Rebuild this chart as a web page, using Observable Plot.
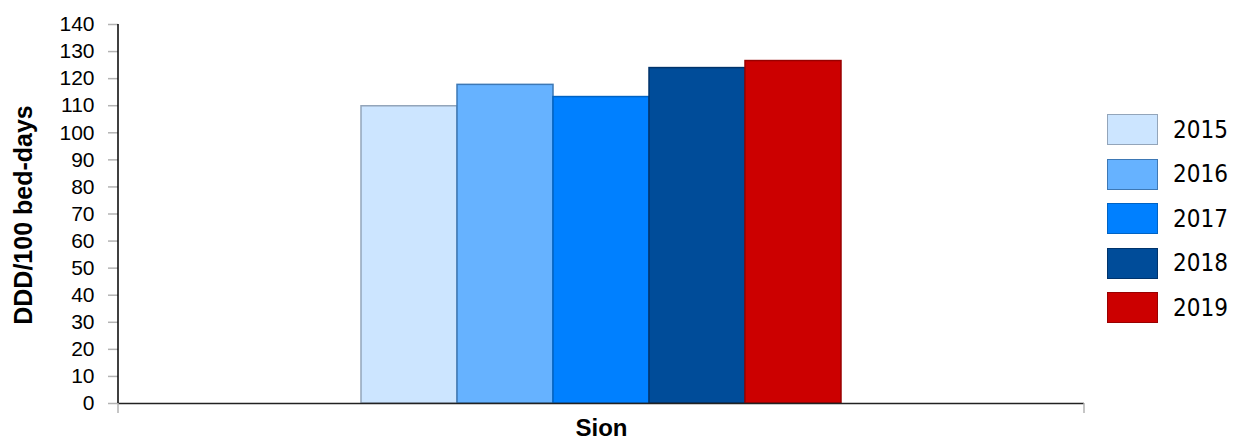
<!DOCTYPE html>
<html><head><meta charset="utf-8">
<script src="https://cdn.jsdelivr.net/npm/d3@7"></script>
<script src="https://cdn.jsdelivr.net/npm/@observablehq/plot@0.6"></script>
<style>
body{margin:0;background:#fff;}
#wrap{position:relative;width:1246px;height:441px;overflow:hidden;}
#legend{position:absolute;left:0;top:0;font-family:"DejaVu Sans Condensed","DejaVu Sans",sans-serif;font-size:24px;color:#000;}
.item{position:absolute;display:flex;align-items:center;white-space:nowrap;}
.sw{width:49px;height:29px;border:1px solid;margin-right:15px;}
[aria-label="y-axis tick"]{stroke:#b3b3b3;stroke-width:1.5px;}
</style></head><body><div id="wrap"><div id="chart"></div><div id="legend"></div></div>
<script>
const category = "Sion";
const years = ["2015", "2016", "2017", "2018", "2019"];
const values = [109.8, 117.7, 113.2, 123.9, 126.5];
const fills = ["#cce5ff", "#66b2ff", "#0080ff", "#004c99", "#cc0000"];
const strokes = ["#93a5ba", "#3d78b5", "#0063c4", "#00336b", "#990000"];
const yTicks = d3.range(0, 141, 10);
const yLabel = "DDD/100 bed-days";

const data = years.map((y, i) => ({category, year: y, value: values[i]}));

function frameDecor(index, scales, vals, dims) {
  const {width, height, marginLeft, marginRight, marginTop, marginBottom} = dims;
  const g = d3.create("svg:g");
  const x0 = marginLeft, x1 = width - marginRight, yb = height - marginBottom;
  for (const x of [x0, x1]) {
    g.append("line").attr("x1", x).attr("x2", x).attr("y1", yb).attr("y2", yb + 10)
      .attr("stroke", "#b3b3b3").attr("stroke-width", 1.5);
  }
  g.append("line").attr("x1", x0).attr("x2", x0).attr("y1", marginTop).attr("y2", yb)
    .attr("stroke", "#000").attr("stroke-width", 1.5);
  return g.node();
}

const plot = Plot.plot({
  width: 1246,
  height: 441,
  marginLeft: 118,
  marginRight: 162,
  marginTop: 24,
  marginBottom: 38,
  style: {fontFamily: "'Liberation Sans', Arial, sans-serif", fontSize: "21px", color: "#000", background: "#fff"},
  x: {domain: years, paddingInner: 0, paddingOuter: 2.49, axis: null},
  y: {domain: [0, 140], axis: null},
  color: {domain: years, range: fills},
  marks: [
    ...years.map((yr, i) => Plot.barY(data.filter(d => d.year === yr), {
      x: "year", y: "value", fill: "year", stroke: strokes[i], strokeWidth: 1.5, inset: 0
    })),
    Plot.ruleY([0], {stroke: "#222", strokeWidth: 1.5}),
    Plot.axisY(yTicks, {tickSize: 10, tickPadding: 14, fontSize: 21, label: null}),
    frameDecor,
    Plot.text([category], {frameAnchor: "bottom", textAnchor: "middle", lineAnchor: "middle", dy: 25, fontSize: 24, fontWeight: "bold"}),
    Plot.text([yLabel], {frameAnchor: "left", textAnchor: "middle", lineAnchor: "middle", rotate: -90, dx: -95, dy: 1, fontSize: 25, fontWeight: "bold"})
  ]
});
document.getElementById("chart").appendChild(plot);

const legend = d3.select("#legend");
years.forEach((yr, i) => {
  const item = legend.append("div").attr("class", "item")
    .style("left", "1107px").style("top", (114 + i * 44.6) + "px");
  item.append("div").attr("class", "sw").style("background", fills[i]).style("border-color", strokes[i]);
  item.append("span").text(yr);
});
</script></body></html>
